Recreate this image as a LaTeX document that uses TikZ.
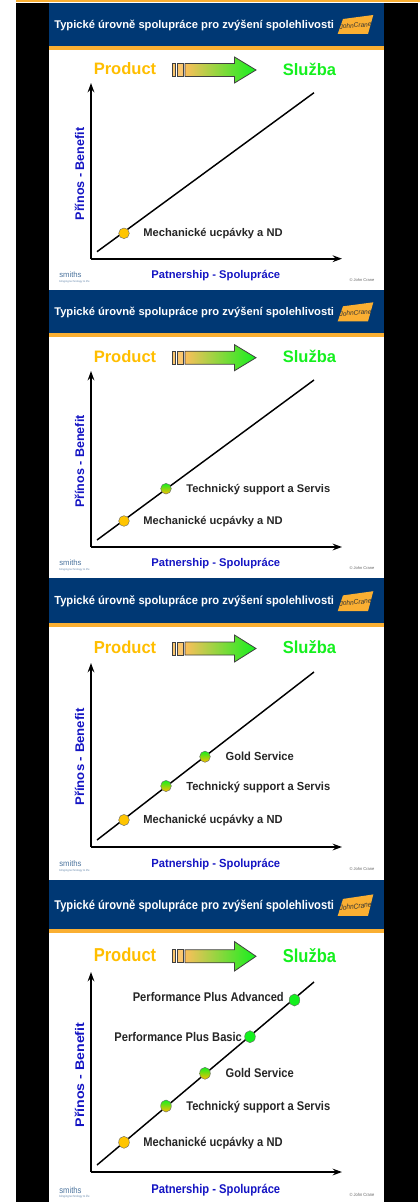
\documentclass[tikz,border=0pt]{standalone}
\usepackage{fontspec}
\setmainfont{Liberation Sans}
\usetikzlibrary{arrows.meta,calc}
\definecolor{navy}{RGB}{0,56,116}
\definecolor{bar}{RGB}{250,175,50}
\definecolor{prod}{RGB}{255,190,0}
\definecolor{serv}{RGB}{20,240,30}
\definecolor{axisblue}{RGB}{20,20,195}
\def\vs{1}
\tikzset{
  x=0.75pt,y=-0.75pt,
  every node/.style={yscale=\vs},
  titletext/.style={text=white,font=\bfseries\fontsize{8.38}{10}\selectfont,anchor=west,inner sep=0pt},
  headtext/.style={font=\bfseries\fontsize{12.4}{14}\selectfont,inner sep=0pt},
  axislabel/.style={text=axisblue,font=\bfseries\fontsize{8.4}{10}\selectfont,inner sep=0pt},
  sidelabel/.style={text=axisblue,font=\bfseries\fontsize{9.4}{11}\selectfont,inner sep=0pt,rotate=90},
  itemlabel/.style={font=\bfseries\fontsize{8.35}{10}\selectfont,inner sep=0pt,text=black!85},
  axisline/.style={line width=1.5pt,-{Stealth[length=7pt,width=5pt]}},
  trend/.style={line width=1.1pt},
  dot/.style={circle,draw=black!60,line width=0.3pt,minimum size=8pt,inner sep=0pt},
  dotprod/.style={dot,fill=prod!90!yellow},
  dotmix/.style={dot,top color=serv,bottom color=prod},
  dotserv/.style={dot,fill=serv},
}
% #1 navy top, #2 bar top, #3 bar bottom, #4 title y, #5 product y, #6 arrow half height, #7 axis top, #8 axis bottom, #9 line end y
\newcommand{\slideframe}[9]{
  \fill[navy] (49,#1) rectangle (384,#2);
  \fill[bar] (49,#2) rectangle (384,#3);
  \node[titletext] at (54,#4) {Typické úrovně spolupráce pro zvýšení spolehlivosti};
  \fill[bar] (337.7,{#4+9*\vs}) -- (368,{#4+9*\vs}) -- (373.3,{#4-10*\vs}) -- (343,{#4-6*\vs}) -- cycle;
  \node[font=\itshape\fontsize{4.9}{6}\selectfont,text=black!80,inner sep=0pt,rotate=5] at (355.5,{#4+0.5}) {JohnCrane};
  \node[headtext,text=prod] at (125,#5) {Product};
  \node[headtext,text=serv] at (309.5,#5) {Služba};
  \draw[black!75,line width=.6pt,fill=bar!70] (172,{#5+1-6.5}) rectangle (175,{#5+1+6.5});
  \draw[black!75,line width=.6pt,fill=bar!70] (177,{#5+1-6.5}) rectangle (183,{#5+1+6.5});
  \draw[black!75,line width=.6pt,left color=bar!80,right color=serv]
    (185,{#5+1-6.5}) -- (234.5,{#5+1-6.5}) -- (234.5,{#5+1-#6}) -- (256,#5+1) -- (234.5,{#5+1+#6}) -- (234.5,{#5+1+6.5}) -- (185,{#5+1+6.5}) -- cycle;
  \coordinate (o) at (91,#8);
  \coordinate (ytip) at (91,#7);
  \coordinate (xtip) at (342,#8);
  \draw[axisline] (o) -- (ytip);
  \draw[axisline] (o) -- (xtip);
  \draw[trend] (97,{#8-7}) -- (314,#9);
}
% #1 patnership y, #2 smiths y, #3 copyright y, #4 side label centre y
\newcommand{\slidefoot}[4]{
  \node[sidelabel] at (79.5,#4) {Přínos - Benefit};
  \node[axislabel] at (215.8,#1) {Patnership - Spolupráce};
  \node[font=\fontsize{5.8}{6}\selectfont,text=navy!70,inner sep=0pt,anchor=west] at (59,#2) {smiths};
  \node[font=\fontsize{2}{3}\selectfont,text=navy!60,inner sep=0pt,anchor=west] at (59,{#2+6.5}) {bringing technology to life};
  \node[font=\fontsize{3}{4}\selectfont,text=black!60,inner sep=0pt] at (362,#3) {© John Crane};
}
\begin{document}
\begin{tikzpicture}
\useasboundingbox (0,0) rectangle (420,1202);
\fill[white] (0,0) rectangle (420,1202);
\fill[black] (16,3) rectangle (418,1202);
\fill[white] (49,3) rectangle (384,1202);
\fill[bar] (16,0) rectangle (420,2.5);
% slide 1
\slideframe{3}{46}{50}{25}{69}{13}{83}{258.7}{92.7}
\slidefoot{275.3}{275}{280}{174}
\node[dotprod] (a1) at (124,233.3) {};
\node[itemlabel] (la1) at (213,234) {Mechanické ucpávky a ND};
% slide 2
\slideframe{290}{333.3}{337}{312.3}{356.7}{13}{371}{547}{380}
\slidefoot{563.3}{563}{568}{461.5}
\node[dotprod] (b1) at (124,521) {};
\node[itemlabel] (lb1) at (213,521.7) {Mechanické ucpávky a ND};
\node[dotmix] (b2) at (166,488.7) {};
\node[itemlabel] (lb2) at (258.3,489.3) {Technický support a Servis};
% slide 3
\def\vs{1.05}
\slideframe{578}{623.3}{627}{601.7}{647.5}{13.5}{663}{847}{672}
\slidefoot{864.3}{864}{869}{757}
\node[dotprod] (c1) at (124,820) {};
\node[itemlabel] (lc1) at (213,820.7) {Mechanické ucpávky a ND};
\node[dotmix] (c2) at (166,786) {};
\node[itemlabel] (lc2) at (258.3,787.3) {Technický support a Servis};
\node[dotmix] (c3) at (205,756.7) {};
\node[itemlabel] (lc3) at (259.7,756.7) {Gold Service};
% slide 4
\def\vs{1.13}
\slideframe{880}{929.3}{933}{905.7}{955.3}{14.7}{972}{1172}{982}
\slidefoot{1190}{1190}{1195}{1075}
\node[dotprod] (d1) at (124,1142.3) {};
\node[itemlabel] (ld1) at (213,1142.7) {Mechanické ucpávky a ND};
\node[dotmix] (d2) at (166,1106) {};
\node[itemlabel] (ld2) at (258.3,1106.7) {Technický support a Servis};
\node[dotmix] (d3) at (205,1073.3) {};
\node[itemlabel] (ld3) at (259.7,1073.3) {Gold Service};
\node[dotserv] (d4) at (250,1036.7) {};
\node[itemlabel] (ld4) at (178.2,1036.7) {Performance Plus Basic};
\node[dotserv] (d5) at (294.5,1000) {};
\node[itemlabel] (ld5) at (208.3,997.3) {Performance Plus Advanced};
\end{tikzpicture}
\end{document}
